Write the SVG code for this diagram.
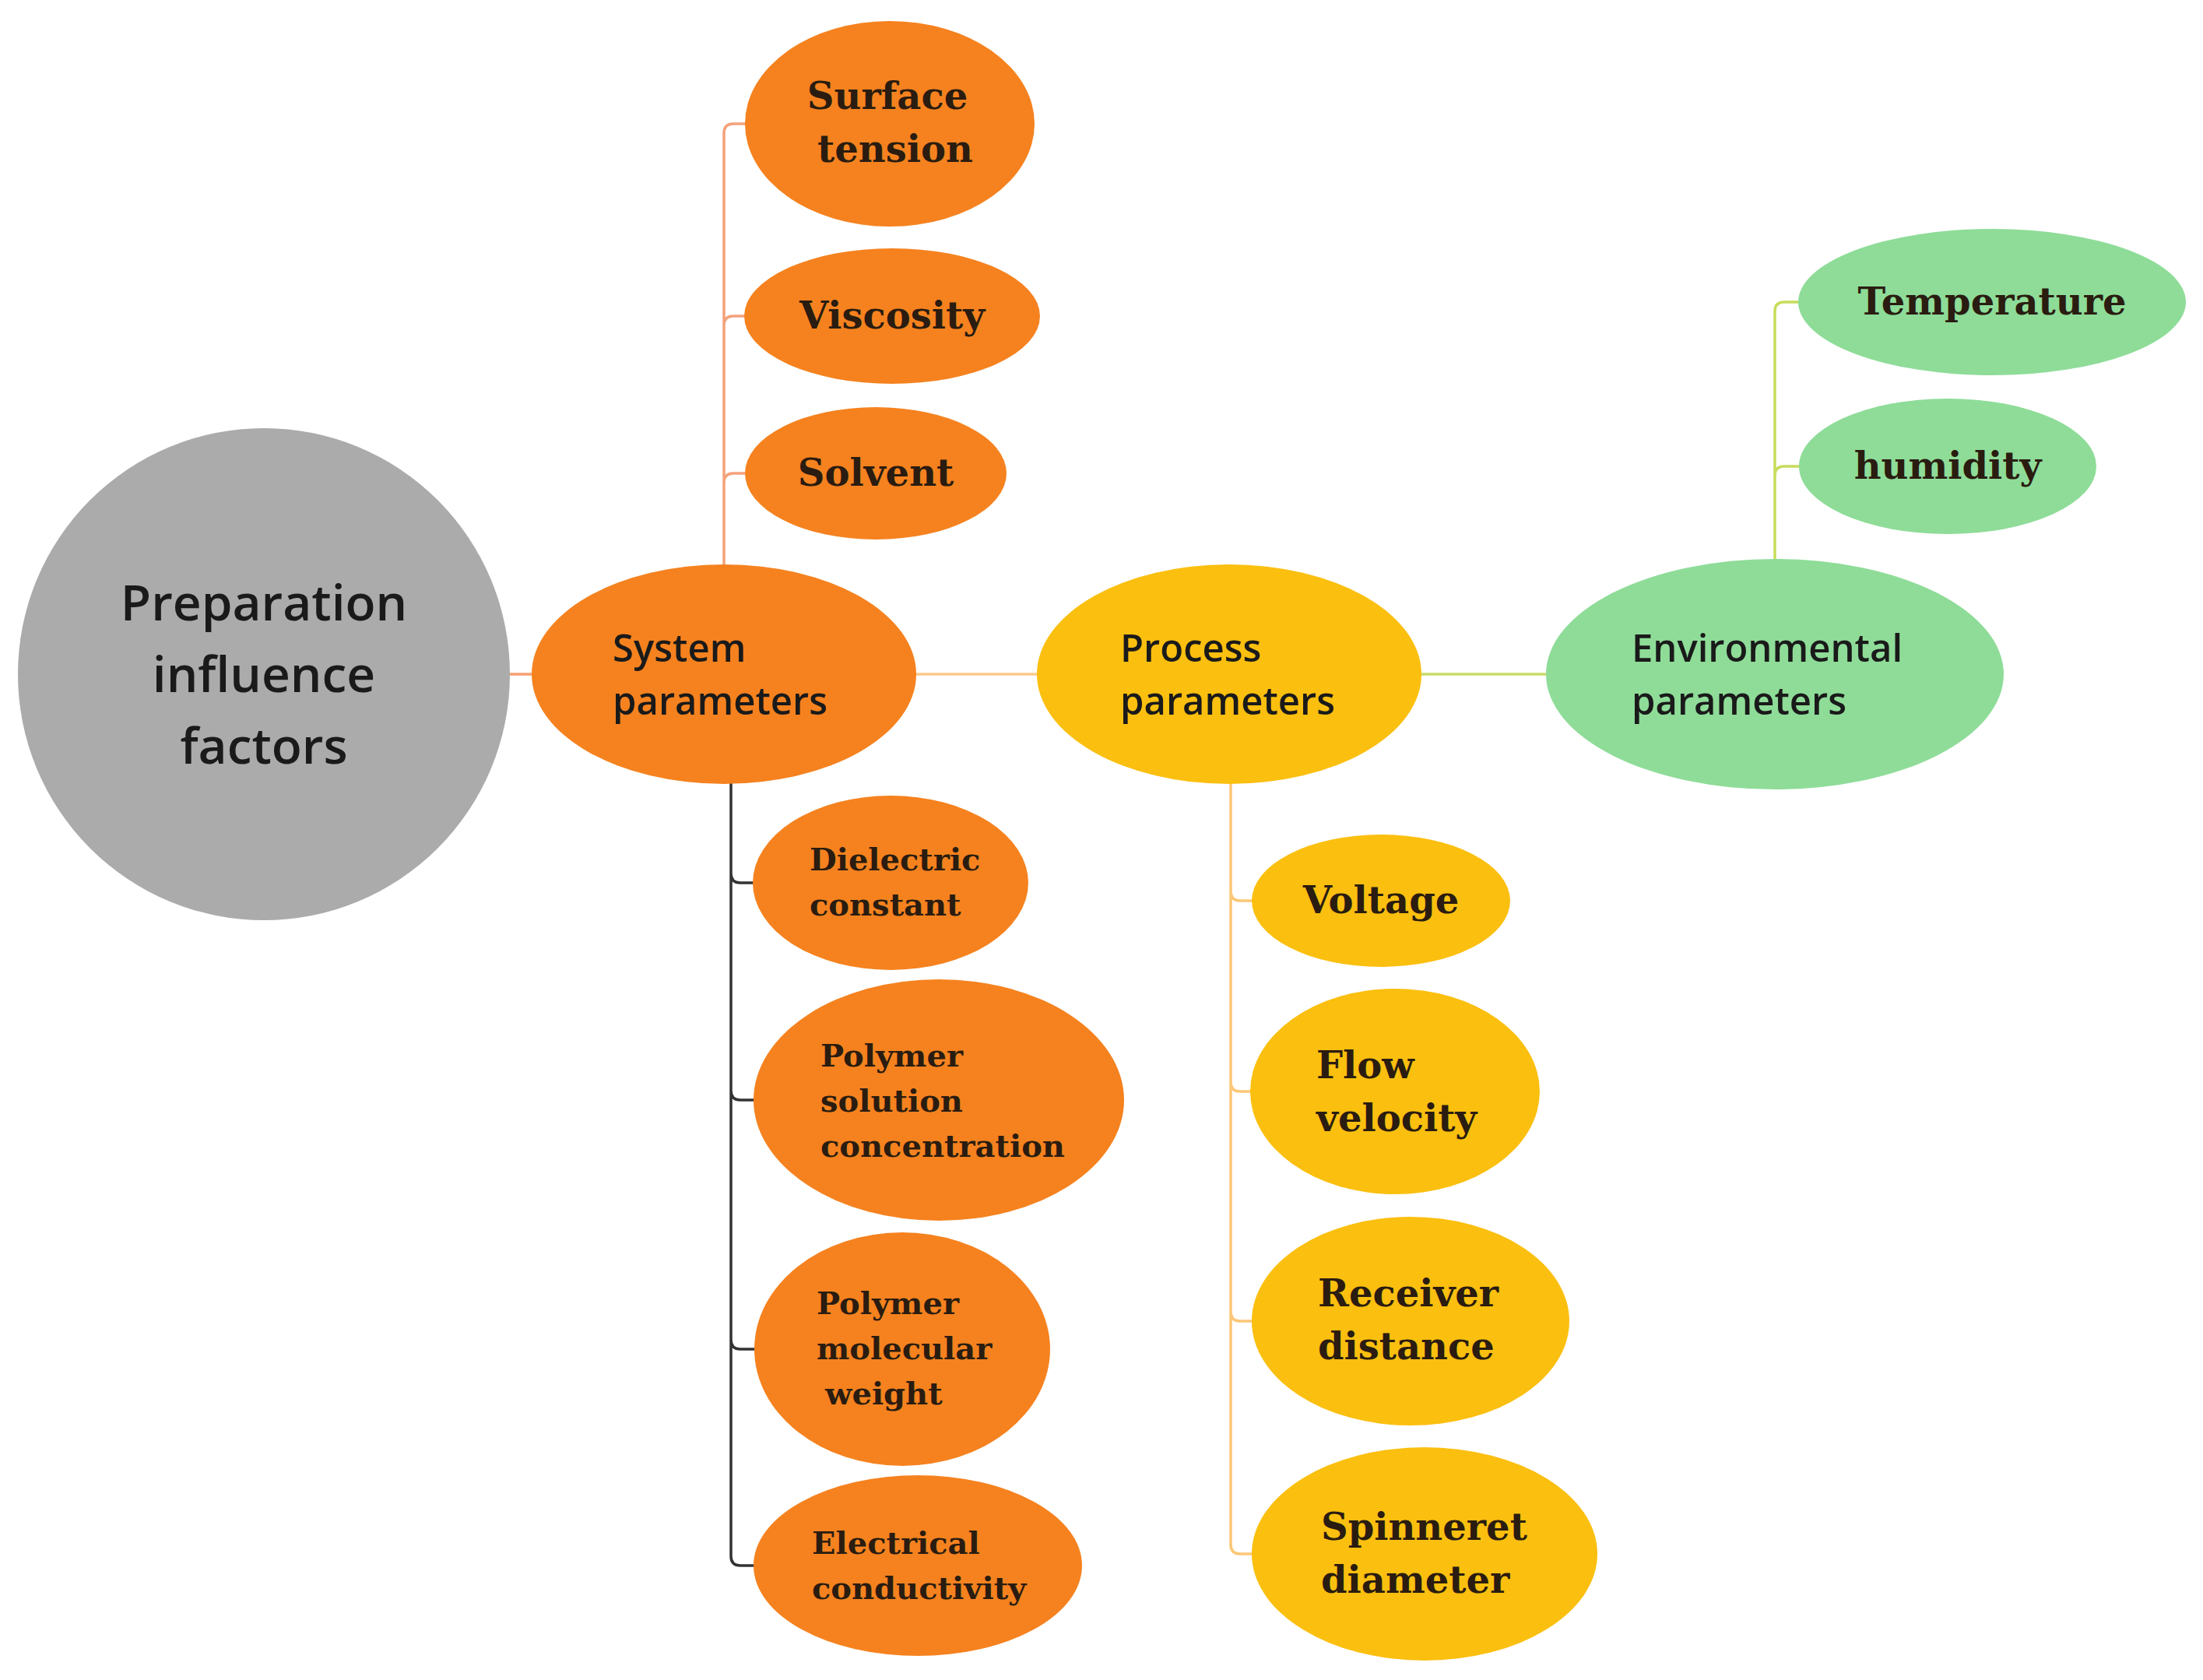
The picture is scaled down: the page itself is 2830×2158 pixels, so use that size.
<svg xmlns="http://www.w3.org/2000/svg" width="2830" height="2158" viewBox="0 0 2830 2158">
<style>
.sans{font-family:"Open Sans","Noto Sans",sans-serif;font-weight:600;fill:#1a1a1a}
.ser{font-family:"DejaVu Serif","Liberation Serif",serif;font-weight:bold;fill:#2a1c10}
.c{text-anchor:middle}
.or{fill:#f5821f}.ye{fill:#fbbf0f}.gr{fill:#8edc98}
.ln{fill:none;stroke-width:3.5}
</style>
<rect width="2830" height="2158" fill="#fff"/>
<g id="connectors">
<line class="ln" x1="655" y1="866" x2="690" y2="866" stroke="#f5a070"/>
<line class="ln" x1="1170" y1="866" x2="1340" y2="866" stroke="#fbc98a"/>
<line class="ln" x1="1820" y1="866" x2="1990" y2="866" stroke="#c8dc6a"/>
<path class="ln" stroke="#f4a27b" d="M930 728 V171 Q930 159 942 159 H960 M930 418 Q930 406 942 406 H960 M930 620 Q930 608 942 608 H960"/>
<path class="ln" stroke="#333" d="M939 1005 V1999 Q939 2011 951 2011 H972 M939 1122 Q939 1134 951 1134 H972 M939 1401 Q939 1413 951 1413 H972 M939 1721 Q939 1733 951 1733 H972"/>
<path class="ln" stroke="#fcc777" d="M1581 1005 V1984 Q1581 1996 1593 1996 H1612 M1581 1145 Q1581 1157 1593 1157 H1612 M1581 1390 Q1581 1402 1593 1402 H1612 M1581 1685 Q1581 1697 1593 1697 H1612"/>
<path class="ln" stroke="#c8dc5a" d="M2280 720 V400 Q2280 388 2292 388 H2315 M2280 611 Q2280 599 2292 599 H2315"/>
</g>
<g id="root"><circle cx="339" cy="866" r="316" fill="#ababab"/>
<text class="sans c" font-size="64" x="339"><tspan x="339" y="797">Preparation</tspan><tspan x="339" y="889">influence</tspan><tspan x="339" y="981">factors</tspan></text></g>
<g id="system"><ellipse cx="930" cy="866" rx="247" ry="141" class="or"/>
<text class="sans" font-size="49"><tspan x="787" y="850">System</tspan><tspan x="787" y="918">parameters</tspan></text></g>
<g id="process"><ellipse cx="1579" cy="866" rx="247" ry="141" class="ye"/>
<text class="sans" font-size="49"><tspan x="1439" y="850">Process</tspan><tspan x="1439" y="918">parameters</tspan></text></g>
<g id="environmental"><ellipse cx="2280" cy="866" rx="294" ry="148" class="gr"/>
<text class="sans" font-size="49"><tspan x="2096" y="850">Environmental</tspan><tspan x="2096" y="918">parameters</tspan></text></g>
<g id="surface"><ellipse cx="1143" cy="159" rx="186" ry="132" class="or"/>
<text class="ser c" font-size="48"><tspan x="1140" y="140">Surface</tspan><tspan x="1150" y="208">tension</tspan></text></g>
<g id="viscosity"><ellipse cx="1146" cy="406" rx="190" ry="87" class="or"/>
<text class="ser c" font-size="48" x="1146" y="422">Viscosity</text></g>
<g id="solvent"><ellipse cx="1125" cy="608" rx="168" ry="85" class="or"/>
<text class="ser c" font-size="48" x="1125" y="624">Solvent</text></g>
<g id="dielectric"><ellipse cx="1144" cy="1134" rx="177" ry="112" class="or"/>
<text class="ser" font-size="40"><tspan x="1040" y="1118">Dielectric</tspan><tspan x="1040" y="1176">constant</tspan></text></g>
<g id="concentration"><ellipse cx="1206" cy="1413" rx="238" ry="155" class="or"/>
<text class="ser" font-size="40"><tspan x="1054" y="1370">Polymer</tspan><tspan x="1054" y="1428">solution</tspan><tspan x="1054" y="1486">concentration</tspan></text></g>
<g id="molweight"><ellipse cx="1159" cy="1733" rx="190" ry="150" class="or"/>
<text class="ser" font-size="40"><tspan x="1049" y="1688">Polymer</tspan><tspan x="1049" y="1746">molecular</tspan><tspan x="1060" y="1804">weight</tspan></text></g>
<g id="conductivity"><ellipse cx="1179" cy="2011" rx="211" ry="116" class="or"/>
<text class="ser" font-size="40"><tspan x="1043" y="1996">Electrical</tspan><tspan x="1043" y="2054">conductivity</tspan></text></g>
<g id="voltage"><ellipse cx="1774" cy="1157" rx="166" ry="85" class="ye"/>
<text class="ser c" font-size="48" x="1774" y="1173">Voltage</text></g>
<g id="flow"><ellipse cx="1792" cy="1402" rx="186" ry="132" class="ye"/>
<text class="ser" font-size="48"><tspan x="1691" y="1385">Flow</tspan><tspan x="1691" y="1453">velocity</tspan></text></g>
<g id="receiver"><ellipse cx="1812" cy="1697" rx="204" ry="134" class="ye"/>
<text class="ser" font-size="48"><tspan x="1693" y="1678">Receiver</tspan><tspan x="1693" y="1746">distance</tspan></text></g>
<g id="spinneret"><ellipse cx="1830" cy="1996" rx="222" ry="137" class="ye"/>
<text class="ser" font-size="48"><tspan x="1697" y="1978">Spinneret</tspan><tspan x="1697" y="2046">diameter</tspan></text></g>
<g id="temperature"><ellipse cx="2559" cy="388" rx="249" ry="94" class="gr"/>
<text class="ser c" font-size="48" x="2559" y="404">Temperature</text></g>
<g id="humidity"><ellipse cx="2502" cy="599" rx="191" ry="87" class="gr"/>
<text class="ser c" font-size="48" x="2502" y="615">humidity</text></g>
</svg>
